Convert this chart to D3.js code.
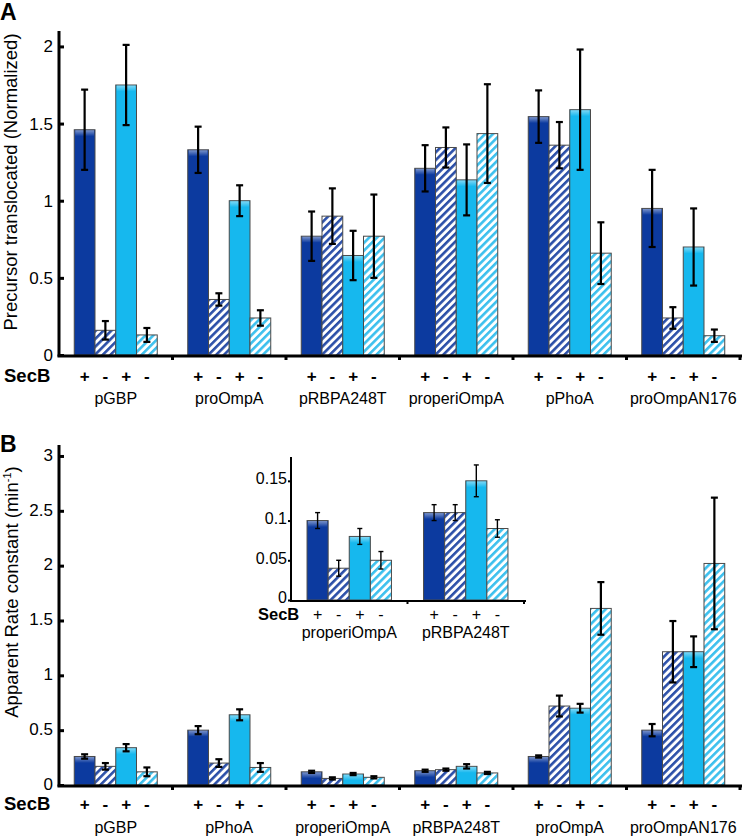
<!DOCTYPE html>
<html>
<head>
<meta charset="utf-8">
<script src="https://cdn.jsdelivr.net/npm/d3@7"></script>
<style>
body{margin:0;background:#fff;}
svg{display:block;font-family:"Liberation Sans",Arial,Helvetica,sans-serif;}
</style>
</head>
<body>
<svg id="chart" width="742" height="837"></svg>
<script>
// ---------- data ----------
const secB = ["+", "-", "+", "-"];
const seriesKeys = ["plusA", "minusA", "plusB", "minusB"];

const groupsA = ["pGBP", "proOmpA", "pRBPA248T", "properiOmpA", "pPhoA", "proOmpAN176"];
const valuesA = [
  [1.46, 0.16, 1.75, 0.13],
  [1.33, 0.36, 1.00, 0.24],
  [0.77, 0.90, 0.645, 0.77],
  [1.21, 1.345, 1.135, 1.435],
  [1.545, 1.36, 1.59, 0.66],
  [0.95, 0.24, 0.70, 0.125]
];
const errorsA = [
  [0.26, 0.06, 0.26, 0.045],
  [0.15, 0.04, 0.10, 0.05],
  [0.16, 0.18, 0.16, 0.27],
  [0.15, 0.13, 0.23, 0.32],
  [0.17, 0.15, 0.39, 0.20],
  [0.25, 0.07, 0.25, 0.04]
];
const ticksA = [0, 0.5, 1, 1.5, 2];

const groupsB = ["pGBP", "pPhoA", "properiOmpA", "pRBPA248T", "proOmpA", "proOmpAN176"];
const valuesB = [
  [0.26, 0.17, 0.34, 0.12],
  [0.50, 0.20, 0.64, 0.16],
  [0.12, 0.06, 0.10, 0.07],
  [0.13, 0.14, 0.17, 0.11],
  [0.26, 0.72, 0.70, 1.61],
  [0.50, 1.215, 1.215, 2.02]
];
const errorsB = [
  [0.02, 0.03, 0.033, 0.04],
  [0.037, 0.035, 0.05, 0.04],
  [0.01, 0.01, 0.01, 0.01],
  [0.01, 0.01, 0.02, 0.01],
  [0.01, 0.095, 0.04, 0.24],
  [0.056, 0.28, 0.14, 0.60]
];
const ticksB = [0, 0.5, 1, 1.5, 2, 2.5, 3];

const insetGroups = ["properiOmpA", "pRBPA248T"];
const insetValues = [
  [0.10, 0.04, 0.08, 0.05],
  [0.11, 0.11, 0.15, 0.09]
];
const insetErrors = [
  [0.01, 0.01, 0.01, 0.011],
  [0.01, 0.01, 0.02, 0.011]
];
const insetTicks = [0, 0.05, 0.1, 0.15];

// ---------- styles ----------
const FONT = '"Liberation Sans",Arial,Helvetica,sans-serif';
const darkBlue = "#0c3a9f";
const cyan = "#16b8ee";

const svg = d3.select("#chart");
svg.append("rect").attr("width", 742).attr("height", 837).attr("fill", "#fff");

const defs = svg.append("defs");
function hatch(id, color) {
  const p = defs.append("pattern")
    .attr("id", id).attr("patternUnits", "userSpaceOnUse")
    .attr("width", 5.5).attr("height", 5.5)
    .attr("patternTransform", "rotate(45)");
  p.append("rect").attr("width", 5.5).attr("height", 5.5).attr("fill", "#fff");
  p.append("rect").attr("width", 2.6).attr("height", 5.5).attr("fill", color);
}
hatch("hatchDark", "#2b4fa8");
hatch("hatchLight", "#3cc0ee");
const fills = [darkBlue, "url(#hatchDark)", cyan, "url(#hatchLight)"];

const gloss = defs.append("linearGradient").attr("id", "gloss")
  .attr("x1", 0).attr("y1", 0).attr("x2", 0).attr("y2", 1);
gloss.append("stop").attr("offset", 0).attr("stop-color", "#fff").attr("stop-opacity", 0.45);
gloss.append("stop").attr("offset", 1).attr("stop-color", "#fff").attr("stop-opacity", 0);

function drawPanel(cfg) {
  const g = svg.append("g");
  const x0 = d3.scaleBand().domain(cfg.groups).range(cfg.xRange).paddingInner(0).paddingOuter(0);
  const x1 = d3.scaleBand().domain(seriesKeys).range([0, x0.bandwidth()]).paddingInner(0).paddingOuter(cfg.outerPad);
  const y = d3.scaleLinear().domain(cfg.yDomain).range(cfg.yRange);

  const grp = g.selectAll("g.grp").data(cfg.groups).enter().append("g")
    .attr("transform", d => `translate(${x0(d)},0)`);
  grp.each(function(name, gi) {
    const sel = d3.select(this);
    const data = seriesKeys.map((k, i) => ({k, i, v: cfg.values[gi][i], e: cfg.errors[gi][i]}));
    sel.selectAll("rect.bar").data(data).enter().append("rect")
      .attr("class", "bar")
      .attr("x", d => x1(d.k))
      .attr("y", d => y(d.v))
      .attr("width", x1.bandwidth())
      .attr("height", d => y(0) - y(d.v))
      .attr("fill", d => fills[d.i])
      .attr("stroke", "#4a4a4a").attr("stroke-width", 1);
    // top gloss on solid bars
    sel.selectAll("rect.gl").data(data.filter(d => d.i % 2 === 0)).enter().append("rect")
      .attr("class", "gl")
      .attr("x", d => x1(d.k) + 1)
      .attr("y", d => y(d.v) + 0.5)
      .attr("width", x1.bandwidth() - 2)
      .attr("height", d => Math.min(6, Math.max(0, y(0) - y(d.v) - 1)))
      .attr("fill", "url(#gloss)");
    const eb = sel.selectAll("g.eb").data(data).enter().append("g")
      .attr("stroke", "#000").attr("stroke-width", cfg.errW);
    eb.append("line")
      .attr("x1", d => x1(d.k) + x1.bandwidth() / 2).attr("x2", d => x1(d.k) + x1.bandwidth() / 2)
      .attr("y1", d => y(d.v + d.e)).attr("y2", d => y(d.v - d.e));
    [1, -1].forEach(s => {
      eb.append("line")
        .attr("x1", d => x1(d.k) + x1.bandwidth() / 2 - cfg.cap).attr("x2", d => x1(d.k) + x1.bandwidth() / 2 + cfg.cap)
        .attr("y1", d => y(d.v + s * d.e)).attr("y2", d => y(d.v + s * d.e));
    });
    sel.selectAll("text.sign").data(data).enter().append("text")
      .attr("x", d => x1(d.k) + x1.bandwidth() / 2)
      .attr("y", cfg.signY)
      .attr("text-anchor", "middle")
      .attr("font-size", cfg.signSize).attr("font-weight", cfg.signWeight)
      .text(d => secB[d.i]);
    sel.append("text")
      .attr("x", x0.bandwidth() / 2).attr("y", cfg.catY)
      .attr("text-anchor", "middle").attr("font-size", cfg.catSize)
      .text(name);
  });

  const ya = g.append("g").attr("transform", `translate(${cfg.xRange[0]},0)`)
    .call(d3.axisLeft(y).tickValues(cfg.ticks).tickSizeInner(cfg.tickIn).tickSizeOuter(0)
      .tickPadding(cfg.tickPad).tickFormat(d => String(d)));
  ya.select(".domain").remove();
  ya.selectAll(".tick line").attr("stroke", "#000").attr("stroke-width", cfg.axisW);
  ya.selectAll(".tick text").attr("font-size", cfg.tickSize).attr("font-family", FONT)
    .attr("fill", "#000").attr("dy", cfg.tickDy);
  g.append("line").attr("x1", cfg.xRange[0]).attr("x2", cfg.xRange[0])
    .attr("y1", cfg.yRange[1]).attr("y2", cfg.yRange[0] + cfg.axisW / 2)
    .attr("stroke", "#000").attr("stroke-width", cfg.axisW);

  g.append("line").attr("x1", cfg.xRange[0] - cfg.axisW / 2).attr("x2", cfg.xRange[1] + 2)
    .attr("y1", y(0) + 1).attr("y2", y(0) + 1)
    .attr("stroke", "#000").attr("stroke-width", cfg.axisW);
  g.selectAll("line.sep").data(cfg.groups).enter().append("line")
    .attr("x1", d => x0(d) + x0.bandwidth()).attr("x2", d => x0(d) + x0.bandwidth())
    .attr("y1", y(0) + 1).attr("y2", y(0) + 1 + cfg.sepLen)
    .attr("stroke", "#000").attr("stroke-width", cfg.axisW);

  g.append("text").attr("x", cfg.secBX).attr("y", cfg.signY)
    .attr("font-size", cfg.secBSize).attr("font-weight", "bold").text("SecB");
  return {x0, x1, y};
}

// Panel A
drawPanel({
  groups: groupsA, values: valuesA, errors: errorsA, ticks: ticksA,
  xRange: [59, 740], yDomain: [0, 2.1], yRange: [355, 31], outerPad: 0.735,
  errW: 2.2, cap: 3.5, axisW: 3, tickIn: -5, tickPad: 6, tickSize: 17, tickDy: "0.32em",
  signY: 382, signSize: 17, signWeight: "bold",
  catY: 404, catSize: 16, secBX: 4, secBSize: 18.5, sepLen: 4
});

// Panel B
drawPanel({
  groups: groupsB, values: valuesB, errors: errorsB, ticks: ticksB,
  xRange: [59, 740], yDomain: [0, 3.1], yRange: [785, 445], outerPad: 0.735,
  errW: 2.2, cap: 3.5, axisW: 3, tickIn: -5, tickPad: 6, tickSize: 17, tickDy: "0.25em",
  signY: 810, signSize: 17, signWeight: "bold",
  catY: 833, catSize: 16, secBX: 4, secBSize: 18.5, sepLen: 4
});

// Inset
drawPanel({
  groups: insetGroups, values: insetValues, errors: insetErrors, ticks: insetTicks,
  xRange: [291, 524], yDomain: [0, 0.18], yRange: [600, 457], outerPad: 0.76,
  errW: 1.4, cap: 2.5, axisW: 2, tickIn: 3, tickPad: 1, tickSize: 16, tickDy: "0.18em",
  signY: 620, signSize: 16, signWeight: "normal",
  catY: 638, catSize: 16, secBX: 258, secBSize: 16.5, sepLen: 3
});

// Axis titles
svg.append("text").attr("transform", "translate(17,182) rotate(-90)")
  .attr("text-anchor", "middle").attr("font-size", 18.5)
  .text("Precursor translocated (Normalized)");
const tB = svg.append("text").attr("transform", "translate(18,592) rotate(-90)")
  .attr("text-anchor", "middle").attr("font-size", 18.5);
tB.append("tspan").text("Apparent Rate constant (min");
tB.append("tspan").attr("font-size", 11).attr("dy", -7).text("-1");
tB.append("tspan").attr("dy", 7).text(")");

// Panel letters
svg.append("text").attr("x", 0).attr("y", 20).attr("font-size", 23).attr("font-weight", "bold").text("A");
svg.append("text").attr("x", 0).attr("y", 452).attr("font-size", 23).attr("font-weight", "bold").text("B");
</script>
</body>
</html>
